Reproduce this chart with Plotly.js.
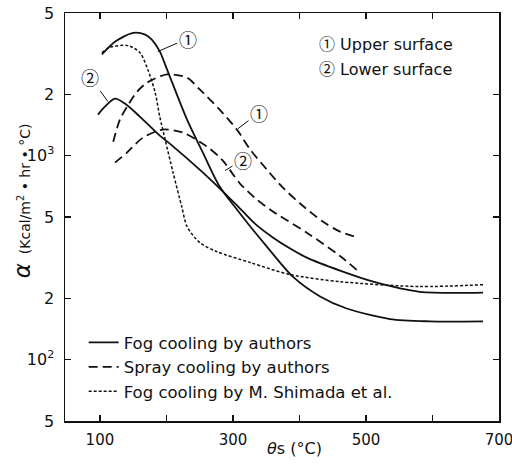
<!DOCTYPE html>
<html>
<head>
<meta charset="utf-8">
<script src="https://cdn.plot.ly/plotly-3.0.1.min.js"></script>
<style>html,body{margin:0;padding:0;background:#fff;}</style>
</head>
<body>
<div id="chart" style="width:512px;height:464px;"></div>
<script>
// Fog cooling by authors, upper surface (1)
const fogUpperX = [103, 123, 150, 168, 178, 190, 201, 231, 255, 280, 306, 326, 351, 390, 431, 471, 536, 596, 676];
const fogUpperY = [3130, 3620, 4000, 3920, 3700, 3240, 2640, 1500, 1030, 705, 544, 449, 358, 255, 204, 178, 158, 154, 154];
// Fog cooling by authors, lower surface (2)
const fogLowerX = [97, 107.5, 122.6, 137.6, 160, 190, 205, 255, 306, 333, 360, 386, 411, 461, 511, 581, 676];
const fogLowerY = [1589, 1738, 1903, 1799, 1553, 1253, 1145, 825, 570, 464, 397, 350, 316, 273, 241, 215, 213];
// Spray cooling by authors, upper surface (1)
const sprayUpperX = [120, 130, 141, 156, 171, 201, 231, 250, 280, 306, 326, 351, 375, 401, 435, 461, 488];
const sprayUpperY = [1170, 1500, 1740, 2060, 2280, 2500, 2410, 2110, 1680, 1340, 1070, 854, 697, 582, 475, 424, 397];
// Spray cooling by authors, lower surface (2)
const sprayLowerX = [122.6, 140.6, 164.7, 194.8, 224.8, 261, 283.5, 310.6, 336, 360, 411, 461, 488];
const sprayLowerY = [924, 1034, 1225, 1341, 1296, 1107, 956, 729, 609, 532, 419, 322, 272];
// Fog cooling by M. Shimada et al.
const shimadaX = [103, 115, 142, 160, 172, 183, 190, 198, 210, 223, 231, 250, 276, 326, 386, 461, 581, 676];
const shimadaY = [3200, 3390, 3460, 3200, 2640, 2040, 1550, 1200, 825, 562, 449, 375, 338, 299, 261, 241, 228, 233];

const legendNames = ["Fog cooling by authors", "Spray cooling by authors", "Fog cooling by M. Shimada et al."];
const xTickVals = [100, 300, 500, 700];
const xTickText = ["100", "300", "500", "700"];
const yTickVals = [50, 100, 200, 500, 1000, 2000, 5000];
const yTickText = ["5", "10<sup>2</sup>", "2", "5", "10<sup>3</sup>", "2", "5"];
const surfaceNames = ["Upper surface", "Lower surface"];
const circled = ["①", "②"];
const xTitle = "<i>θ</i>s (°C)";
const yTitle = "<span style=\"font-size:23px\"><i>α</i></span>  (Kcal/m<sup>2</sup> • hr • °C)";

const FONT = "DejaVu Sans, Liberation Sans, sans-serif";
const CJK = "Noto Sans CJK JP";

function tr(x, y, dash, width, name, show) {
  return {
    x: x, y: y, type: "scatter", mode: "lines",
    line: {color: "#111", width: width, dash: dash, shape: "spline", smoothing: 0.8},
    name: name, showlegend: show, legendgroup: name, hoverinfo: "skip"
  };
}

const data = [
  tr(fogUpperX, fogUpperY, "solid", 1.8, legendNames[0], true),
  tr(fogLowerX, fogLowerY, "solid", 1.8, legendNames[0], false),
  tr(sprayUpperX, sprayUpperY, "9px,5px", 1.8, legendNames[1], true),
  tr(sprayLowerX, sprayLowerY, "9px,5px", 1.8, legendNames[1], false),
  tr(shimadaX, shimadaY, "3px,2px", 1.5, legendNames[2], true)
];

function lg(v) { return Math.log10(v); }
function circ(x, y, txt, ax, ay) {
  return {x: x, y: lg(y), xref: "x", yref: "y", text: txt, showarrow: true,
    arrowhead: 0, arrowwidth: 1, arrowcolor: "#111", ax: ax, ay: ay,
    font: {family: CJK, size: 18, color: "#111"}};
}

const annotations = [
  circ(187, 3236, circled[0], 30, -13),
  circ(112, 1840, circled[1], -18, -25),
  circ(307.6, 1355, circled[0], 21, -16),
  circ(288, 844, circled[1], 18, -11),
  {xref: "paper", yref: "paper", x: 0.58, y: 0.926, xanchor: "left", yanchor: "middle",
   text: "<span style=\"font-family:" + CJK + "\">" + circled[0] + "</span> " + surfaceNames[0],
   showarrow: false, font: {family: FONT, size: 16, color: "#111"}},
  {xref: "paper", yref: "paper", x: 0.58, y: 0.865, xanchor: "left", yanchor: "middle",
   text: "<span style=\"font-family:" + CJK + "\">" + circled[1] + "</span> " + surfaceNames[1],
   showarrow: false, font: {family: FONT, size: 16, color: "#111"}},
  {xref: "paper", yref: "paper", x: 0.528, y: -0.068, xanchor: "center", yanchor: "middle",
   text: xTitle, showarrow: false, font: {family: FONT, size: 16, color: "#111"}},
  {xref: "paper", yref: "paper", x: -0.1, y: 0.54, xanchor: "center", yanchor: "middle",
   textangle: -90, text: yTitle, showarrow: false, font: {family: FONT, size: 14, color: "#111"}}
];

const layout = {
  width: 512, height: 464,
  margin: {l: 65, r: 13, t: 13, b: 43},
  paper_bgcolor: "#fff", plot_bgcolor: "#fff",
  font: {family: FONT, size: 16, color: "#111"},
  showlegend: true,
  legend: {x: 0.043, y: 0.235, xanchor: "left", yanchor: "top", bgcolor: "rgba(0,0,0,0)",
    font: {family: FONT, size: 16.5, color: "#111"}, traceorder: "normal", tracegroupgap: 0},
  xaxis: {
    range: [47.5, 700], tickmode: "array", tickvals: xTickVals, ticktext: xTickText,
    ticks: "inside", ticklen: 6, tickwidth: 1.2, tickcolor: "#111", mirror: "ticks",
    minor: {ticks: "inside", ticklen: 6, tickwidth: 1.2, tickcolor: "#111", tick0: 0, dtick: 100, showgrid: false},
    showline: true, linewidth: 1.5, linecolor: "#111", showgrid: false, zeroline: false,
    tickfont: {family: FONT, size: 15, color: "#111"}, ticklabelstandoff: 4,
    ticklabeloverflow: "allow"
  },
  yaxis: {
    type: "log", range: [Math.log10(50), Math.log10(5000)], tickmode: "array",
    tickvals: yTickVals, ticktext: yTickText,
    ticks: "inside", ticklen: 6, tickwidth: 1.2, tickcolor: "#111", mirror: "ticks",
    showline: true, linewidth: 1.5, linecolor: "#111", showgrid: false, zeroline: false,
    tickfont: {family: FONT, size: 16, color: "#111"}, ticklabelstandoff: 6,
    ticklabeloverflow: "allow"
  },
  annotations: annotations
};

Plotly.newPlot("chart", data, layout, {displayModeBar: false, staticPlot: true});
</script>
</body>
</html>
